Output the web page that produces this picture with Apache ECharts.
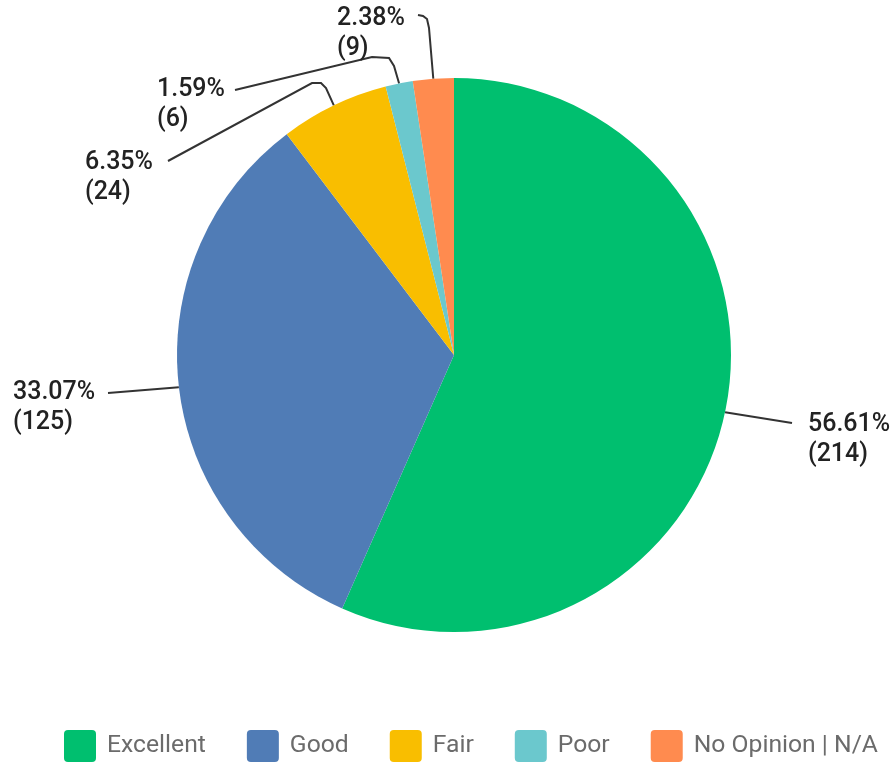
<!DOCTYPE html>
<html>
<head>
<meta charset="utf-8">
<script src="https://cdn.jsdelivr.net/npm/echarts@6/dist/echarts.min.js"></script>
<style>
  html, body { margin: 0; padding: 0; background: #fff; }
  #chart { width: 894px; height: 763px; }
</style>
</head>
<body>
<div id="chart"></div>
<script>
// ---- data ----
const categories = ['Excellent', 'Good', 'Fair', 'Poor', 'No Opinion | N/A'];
const counts = [214, 125, 24, 6, 9];
const colors = ['#00BF6F', '#507CB6', '#F9BE00', '#6BC8CD', '#FF8B4F'];

// ---- label placement (layout only) ----
const labelPlacement = [
  { x: 808, y: 410, line: [[792, 423]] },
  { x: 13,  y: 378, line: [[108, 393]] },
  { x: 85,  y: 148, line: [[326, 88], [321, 83], [312, 83], [168, 161]] },
  { x: 157, y: 75,  line: [[394, 66], [389, 58], [372, 57], [235, 90]] },
  { x: 337, y: 4,   line: [[429, 28], [427, 19], [423, 16], [418, 15]] }
];

const CENTER = [454, 355];
const RADIUS = 277;

const total = counts.reduce((a, b) => a + b, 0);
function anchorFor(idx) {
  let before = 0;
  for (let i = 0; i < idx; i++) before += counts[i];
  const mid = (before + counts[idx] / 2) / total * Math.PI * 2;
  return [CENTER[0] + RADIUS * Math.sin(mid), CENTER[1] - RADIUS * Math.cos(mid)];
}

const chart = echarts.init(document.getElementById('chart'), null, { renderer: 'canvas' });

const roundSquare = 'path://M4,0H28A4,4,0,0,1,32,4V28A4,4,0,0,1,28,32H4A4,4,0,0,1,0,28V4A4,4,0,0,1,4,0Z';

chart.setOption({
  animation: false,
  backgroundColor: '#ffffff',
  color: colors,
  legend: {
    left: 64,
    top: 730,
    padding: 0,
    itemWidth: 32,
    itemHeight: 32,
    itemGap: 41,
    icon: roundSquare,
    data: categories,
    textStyle: {
      fontFamily: 'Roboto',
      fontSize: 24.7,
      color: '#6b6b6b',
      padding: [0, 0, 0, 6]
    }
  },
  series: [{
    type: 'pie',
    center: CENTER,
    radius: RADIUS,
    startAngle: 90,
    clockwise: true,
    avoidLabelOverlap: false,
    data: categories.map((name, i) => ({ name: name, value: counts[i] })),
    itemStyle: { borderWidth: 0 },
    label: {
      show: true,
      position: 'outside',
      formatter: '{d}%\n({c})',
      fontFamily: 'Roboto',
      fontSize: 25,
      fontWeight: 500,
      lineHeight: 30,
      color: '#222222'
    },
    labelLine: {
      show: true,
      length: 20,
      length2: 20,
      lineStyle: { color: '#333333', width: 2 }
    },
    labelLayout: function (params) {
      const p = labelPlacement[params.dataIndex];
      const a = (params.labelLinePoints && params.labelLinePoints[0]) || anchorFor(params.dataIndex);
      return {
        x: p.x,
        y: p.y,
        align: 'left',
        verticalAlign: 'top',
        labelLinePoints: [a].concat(p.line)
      };
    },
    emphasis: { disabled: true }
  }]
});
</script>
</body>
</html>
